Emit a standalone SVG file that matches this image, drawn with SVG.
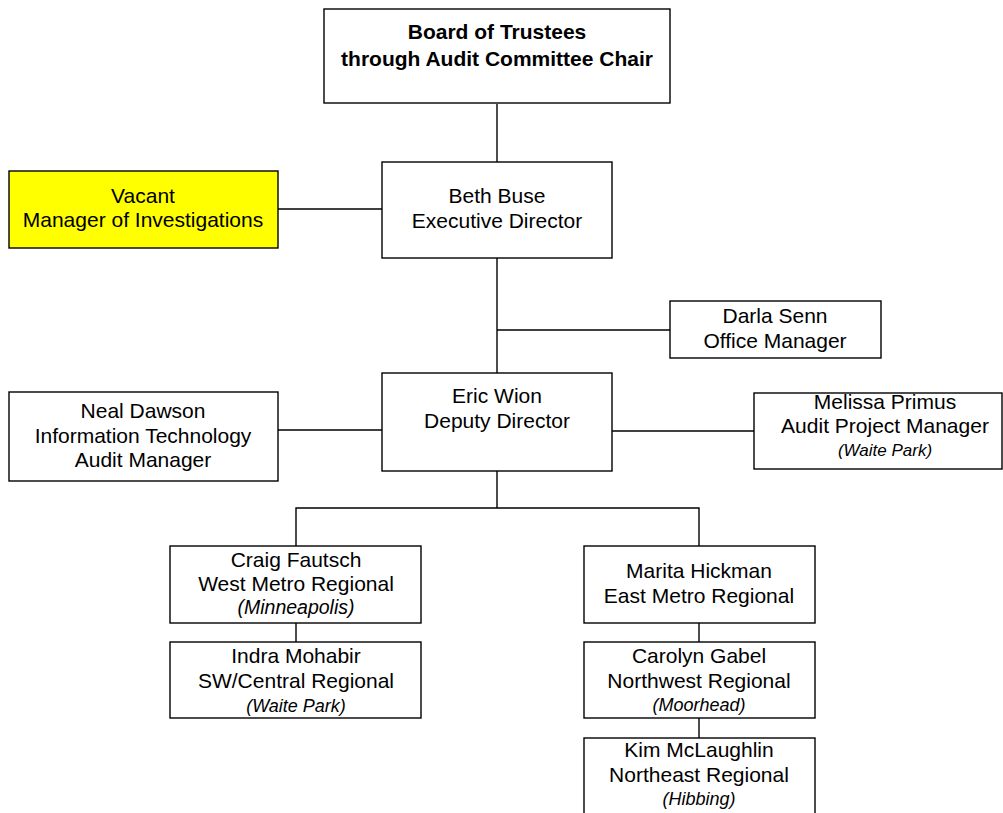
<svg xmlns="http://www.w3.org/2000/svg" width="1003" height="813" viewBox="0 0 1003 813">
<style>
.box{fill:#ffffff;stroke:#000000;stroke-width:1.4}
.vac{fill:#ffff00;stroke:#000000;stroke-width:1.4}
.t{font-family:"Liberation Sans",Arial,sans-serif;font-size:21px;fill:#000000;text-anchor:middle}
.b{font-weight:bold}
.i{font-style:italic;font-size:18px}
.c{fill:none;stroke:#000000;stroke-width:1.4}
</style>
<rect width="1003" height="813" fill="#ffffff"/>
<g id="connectors">
<path class="c" d="M497 104V162"/>
<path class="c" d="M278 209H382"/>
<path class="c" d="M497 258V373"/>
<path class="c" d="M497 330H670"/>
<path class="c" d="M278 430H382"/>
<path class="c" d="M612 431H754"/>
<path class="c" d="M497 471V508M296 546V508H699V546"/>
<path class="c" d="M296 623V642"/>
<path class="c" d="M699 623V642"/>
<path class="c" d="M699 718V738"/>
</g>
<g id="board">
<rect class="box" x="324" y="9" width="346" height="94"/>
<text class="t b" x="497" y="39">Board of Trustees</text>
<text class="t b" x="497" y="66">through Audit Committee Chair</text>
</g>
<g id="vacant">
<rect class="vac" x="9" y="171" width="269" height="77"/>
<text class="t" x="143" y="203">Vacant</text>
<text class="t" x="143" y="227">Manager of Investigations</text>
</g>
<g id="beth">
<rect class="box" x="382" y="162" width="230" height="96"/>
<text class="t" x="497" y="203">Beth Buse</text>
<text class="t" x="497" y="228">Executive Director</text>
</g>
<g id="darla">
<rect class="box" x="670" y="301" width="211" height="57"/>
<text class="t" x="775" y="323">Darla Senn</text>
<text class="t" x="775" y="348">Office Manager</text>
</g>
<g id="eric">
<rect class="box" x="382" y="373" width="230" height="98"/>
<text class="t" x="497" y="403">Eric Wion</text>
<text class="t" x="497" y="428">Deputy Director</text>
</g>
<g id="neal">
<rect class="box" x="9" y="392" width="269" height="89"/>
<text class="t" x="143" y="418">Neal Dawson</text>
<text class="t" x="143" y="443">Information Technology</text>
<text class="t" x="143" y="467">Audit Manager</text>
</g>
<g id="melissa">
<rect class="box" x="754" y="393" width="248" height="76"/>
<text class="t" x="885" y="409">Melissa Primus</text>
<text class="t" x="885" y="433">Audit Project Manager</text>
<text class="t i" x="885" y="456" style="font-size:17px">(Waite Park)</text>
</g>
<g id="craig">
<rect class="box" x="170" y="546" width="251" height="77"/>
<text class="t" x="296" y="567">Craig Fautsch</text>
<text class="t" x="296" y="591">West Metro Regional</text>
<text class="t i" x="296" y="614" style="font-size:19.5px">(Minneapolis)</text>
</g>
<g id="indra">
<rect class="box" x="170" y="642" width="251" height="76"/>
<text class="t" x="296" y="663">Indra Mohabir</text>
<text class="t" x="296" y="688">SW/Central Regional</text>
<text class="t i" x="296" y="712">(Waite Park)</text>
</g>
<g id="marita">
<rect class="box" x="584" y="546" width="231" height="77"/>
<text class="t" x="699" y="578">Marita Hickman</text>
<text class="t" x="699" y="603">East Metro Regional</text>
</g>
<g id="carolyn">
<rect class="box" x="584" y="642" width="231" height="76"/>
<text class="t" x="699" y="663">Carolyn Gabel</text>
<text class="t" x="699" y="688">Northwest Regional</text>
<text class="t i" x="699" y="711">(Moorhead)</text>
</g>
<g id="kim">
<rect class="box" x="584" y="738" width="231" height="80"/>
<text class="t" x="699" y="757">Kim McLaughlin</text>
<text class="t" x="699" y="782">Northeast Regional</text>
<text class="t i" x="699" y="805">(Hibbing)</text>
</g>
</svg>
